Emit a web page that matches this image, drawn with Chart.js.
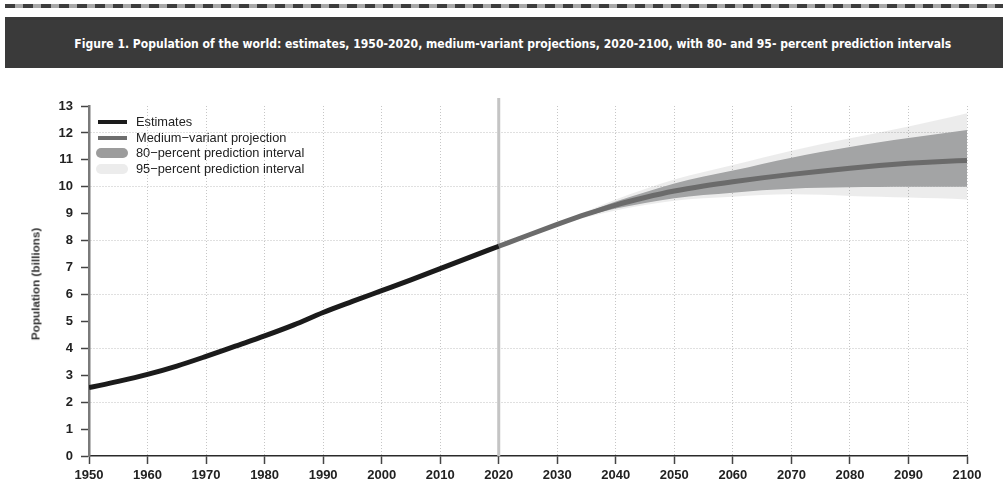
<!DOCTYPE html>
<html><head><meta charset="utf-8">
<script src="https://cdn.jsdelivr.net/npm/chart.js@4.4.1/dist/chart.umd.min.js"></script>
<style>
html,body{margin:0;padding:0;background:#fff;width:1003px;height:499px;overflow:hidden;font-family:"Liberation Sans",Arial,sans-serif;}
#wrap{position:relative;width:1003px;height:499px;}
#dash{position:absolute;left:5px;right:0;top:4px;height:4px;background:repeating-linear-gradient(90deg,#3d3d3d 0 10px,#a8a8a8 10px 18px);}
#banner{position:absolute;left:5px;right:0;top:17px;height:51px;background:#3a3a3a;}
#titleRow{position:absolute;left:0;top:34px;width:1026px;text-align:center;line-height:18px;}
#title{display:inline-block;color:#fff;font-family:"DejaVu Sans Condensed","DejaVu Sans",sans-serif;font-weight:bold;font-size:13px;white-space:nowrap;transform-origin:50% 50%;}
canvas{position:absolute;left:0;top:0;}
.leg{position:absolute;left:96px;height:16px;font-size:12.8px;color:#222;white-space:nowrap;}
.leg .sw{position:absolute;left:2px;top:6px;width:29px;height:4px;}
.leg .pill{position:absolute;left:0;top:3px;width:32px;height:10px;border-radius:5px;}
.leg span.t{position:absolute;left:40px;top:0;line-height:16px;}
#ytitle{position:absolute;left:35px;top:284px;transform:translate(-50%,-50%) rotate(-90deg);font-size:11.7px;font-weight:bold;color:#333;white-space:nowrap;}
</style>
</head><body>
<div id="wrap">
<div id="dash"></div>
<div id="banner"></div>
<div id="titleRow"><span id="title">Figure 1. Population of the world: estimates, 1950-2020, medium-variant projections, 2020-2100, with 80- and 95- percent prediction intervals</span></div>
<canvas id="c" width="1003" height="499"></canvas>
<div class="leg" style="top:114px"><div class="sw" style="background:#1b1b1b"></div><span class="t">Estimates</span></div>
<div class="leg" style="top:129.5px"><div class="sw" style="background:#6e6e6e"></div><span class="t">Medium−variant projection</span></div>
<div class="leg" style="top:145px"><div class="pill" style="background:#9c9c9c"></div><span class="t">80−percent prediction interval</span></div>
<div class="leg" style="top:161px"><div class="pill" style="background:#ececec"></div><span class="t">95−percent prediction interval</span></div>
<div id="ytitle">Population (billions)</div>
</div>
<script>
// Data (billions)
const estYears = [1950,1955,1960,1965,1970,1975,1980,1985,1990,1995,2000,2005,2010,2015,2020];
const estimates = [2.54,2.77,3.03,3.34,3.70,4.08,4.46,4.87,5.33,5.74,6.14,6.54,6.96,7.38,7.79];
const projYears = [2020,2025,2030,2035,2040,2045,2050,2055,2060,2065,2070,2075,2080,2085,2090,2095,2100];
const median  = [7.79,8.20,8.60,8.98,9.32,9.60,9.84,10.03,10.19,10.33,10.46,10.58,10.69,10.79,10.87,10.93,10.98];
const upper80 = [7.79,8.21,8.63,9.05,9.45,9.80,10.12,10.38,10.60,10.85,11.08,11.29,11.48,11.65,11.81,11.96,12.11];
const lower80 = [7.79,8.19,8.57,8.91,9.19,9.40,9.57,9.69,9.78,9.87,9.93,9.96,9.98,9.99,10.00,10.00,10.00];
const upper95 = [7.79,8.22,8.65,9.09,9.53,9.92,10.27,10.55,10.81,11.08,11.34,11.58,11.80,12.02,12.24,12.48,12.73];
const lower95 = [7.79,8.18,8.55,8.87,9.12,9.32,9.48,9.57,9.63,9.69,9.72,9.70,9.66,9.63,9.60,9.57,9.53];
const xTicks = [1950,1960,1970,1980,1990,2000,2010,2020,2030,2040,2050,2060,2070,2080,2090,2100];
const yTicks = [0,1,2,3,4,5,6,7,8,9,10,11,12,13];

// fit title width
(function(){const t=document.getElementById('title');const w=t.getBoundingClientRect().width;t.style.transform='scaleX('+(877/w)+')';})();

const pts = (xs, ys) => xs.map((x,i)=>({x:x,y:ys[i]}));
const base = {pointRadius:0, pointHoverRadius:0, borderWidth:0, cubicInterpolationMode:'monotone'};

const vline = {
  id:'vline',
  beforeDatasetsDraw(chart){
    const {ctx, chartArea, scales} = chart;
    const x = scales.x.getPixelForValue(2020);
    ctx.save();
    ctx.strokeStyle = '#c4c4c4';
    ctx.lineWidth = 3;
    ctx.beginPath();
    ctx.moveTo(x, chartArea.top - 8);
    ctx.lineTo(x, chartArea.bottom);
    ctx.stroke();
    ctx.restore();
  }
};

new Chart(document.getElementById('c'), {
  type:'line',
  data:{datasets:[
    Object.assign({}, base, {label:'95 upper', data:pts(projYears, upper95), fill:'+1', backgroundColor:'rgba(0,0,0,0.075)', order:5}),
    Object.assign({}, base, {label:'95 lower', data:pts(projYears, lower95), fill:false, order:6}),
    Object.assign({}, base, {label:'80 upper', data:pts(projYears, upper80), fill:'+1', backgroundColor:'#a3a4a5', order:3}),
    Object.assign({}, base, {label:'80 lower', data:pts(projYears, lower80), fill:false, order:4}),
    Object.assign({}, base, {label:'Medium-variant projection', data:pts(projYears, median), borderColor:'#6b6b6b', borderWidth:5, fill:false, order:1}),
    Object.assign({}, base, {label:'Estimates', data:pts(estYears, estimates), borderColor:'#1b1b1b', borderWidth:5, fill:false, order:0})
  ]},
  options:{
    responsive:false, animation:false,
    layout:{padding:{left:0, right:36, top:106, bottom:0}},
    plugins:{legend:{display:false}, tooltip:{enabled:false}},
    scales:{
      x:{
        type:'linear', min:1950, max:2100,
        afterBuildTicks(s){ s.ticks = xTicks.map(v=>({value:v})); },
        afterFit(s){ s.height = 43; },
        grid:{color:'#c6c6c6', lineWidth:1, tickColor:'#444', tickWidth:1.5, tickLength:8},
        border:{display:true, color:'#2a2a2a', width:1.5, dash:[1,2]},
        ticks:{color:'#222', font:{family:'"Liberation Sans", Arial, sans-serif', size:13, weight:'bold'}, padding:4, maxRotation:0, autoSkip:false, callback:v=>String(v)}
      },
      y:{
        type:'linear', min:0, max:13,
        afterBuildTicks(s){ s.ticks = yTicks.map(v=>({value:v})); },
        afterFit(s){ s.width = 89; },
        grid:{color:(c)=> (c.tick && c.tick.value%2===0 && c.tick.value>0 && c.tick.value<13) ? '#c0c0c0' : 'rgba(0,0,0,0)', lineWidth:1, tickColor:'#444', tickWidth:1.5, tickLength:8},
        border:{display:true, color:'#7a7a7a', width:2.5, dash:[1,2]},
        ticks:{color:'#222', font:{family:'"Liberation Sans", Arial, sans-serif', size:13, weight:'bold'}, padding:8, autoSkip:false}
      }
    }
  },
  plugins:[vline]
});
</script>
</body></html>
